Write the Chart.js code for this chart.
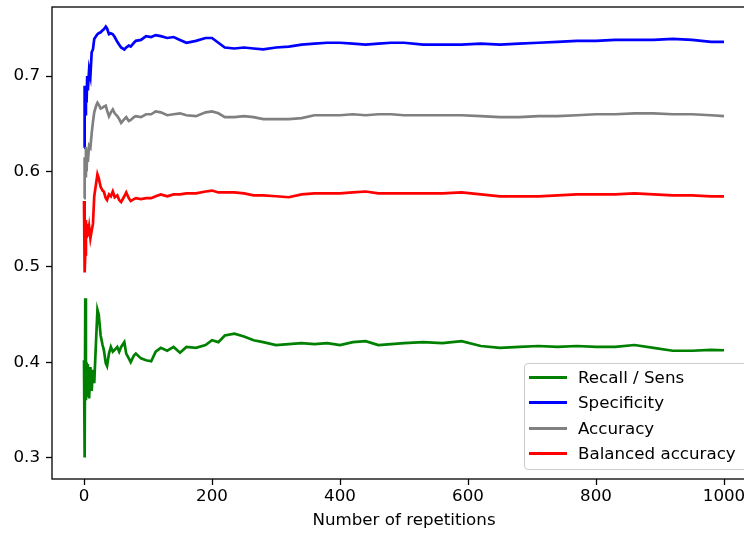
<!DOCTYPE html>
<html>
<head>
<meta charset="utf-8">
<script src="https://cdn.jsdelivr.net/npm/chart.js@4.4.1/dist/chart.umd.min.js"></script>
<style>
    html, body { margin: 0; padding: 0; background: #fff; overflow: hidden; }
    #wrap { position: relative; width: 744px; height: 533px; overflow: hidden; }
    #chart { display: block; }
    #legend {
        position: absolute; left: 524px; top: 363px; width: 240px; height: 107px;
        border: 1px solid #ccc; border-radius: 4px; background: rgba(255, 255, 255, 0.8);
        box-sizing: border-box; font-family: 'DejaVu Sans'; font-size: 16.7px; color: #000;
    }
    .item { position: absolute; left: 0; height: 20px; line-height: 20px; white-space: nowrap; }
    .swatch { position: absolute; left: 4px; top: 9px; width: 38px; height: 3px; }
    .item span { position: absolute; left: 53px; top: 0; }
</style>
</head>
<body>
<div id="wrap">
    <canvas id="chart" width="770" height="533"></canvas>
    <div id="legend"></div>
</div>
<script>
const reps = [0, 1, 2, 3, 4, 5, 6, 8, 10, 12, 14, 16, 19, 21, 23, 26, 29, 31, 34, 36, 39,
    42, 45, 48, 52, 55, 58, 63, 66, 70, 73, 78, 81, 89, 97, 105, 112, 120, 130, 140, 150,
    160, 175, 190, 200, 210, 220, 235, 250, 265, 280, 300, 320, 340, 360, 380, 400, 420,
    440, 460, 480, 500, 530, 560, 590, 620, 650, 680, 710, 740, 770, 800, 830, 860, 890,
    920, 950, 980, 1000];

const recall = [0.402, 0.300, 0.467, 0.360, 0.400, 0.365, 0.398, 0.362, 0.395, 0.370, 0.392,
    0.378, 0.425, 0.455, 0.450, 0.428, 0.418, 0.413, 0.399, 0.396, 0.409, 0.416, 0.411,
    0.413, 0.416, 0.411, 0.416, 0.421, 0.409, 0.404, 0.400, 0.407, 0.409, 0.404, 0.402,
    0.401, 0.411, 0.415, 0.412, 0.416, 0.410, 0.416, 0.415, 0.418, 0.423, 0.421, 0.428,
    0.430, 0.427, 0.423, 0.421, 0.418, 0.419, 0.420, 0.419, 0.420, 0.418, 0.421, 0.422,
    0.418, 0.419, 0.420, 0.421, 0.420, 0.422, 0.417, 0.415, 0.416, 0.417, 0.416, 0.417,
    0.416, 0.416, 0.418, 0.415, 0.412, 0.412, 0.413, 0.4125];

const specificity = [0.625, 0.690, 0.660, 0.690, 0.672, 0.700, 0.685, 0.707, 0.700, 0.725,
    0.728, 0.739, 0.742, 0.744, 0.745, 0.746, 0.748, 0.749, 0.752, 0.750, 0.744, 0.745,
    0.744, 0.741, 0.736, 0.733, 0.730, 0.728, 0.730, 0.732, 0.731, 0.735, 0.737, 0.738,
    0.742, 0.741, 0.743, 0.742, 0.740, 0.741, 0.738, 0.735, 0.737, 0.740, 0.740, 0.735,
    0.730, 0.729, 0.730, 0.729, 0.728, 0.730, 0.731, 0.733, 0.734, 0.735, 0.735, 0.734,
    0.733, 0.734, 0.735, 0.735, 0.733, 0.733, 0.733, 0.734, 0.733, 0.734, 0.735, 0.736,
    0.737, 0.737, 0.738, 0.738, 0.738, 0.739, 0.738, 0.736, 0.736];

const accuracy = [0.572, 0.615, 0.595, 0.626, 0.600, 0.620, 0.610, 0.627, 0.625, 0.640,
    0.652, 0.662, 0.669, 0.672, 0.670, 0.666, 0.667, 0.668, 0.669, 0.664, 0.658, 0.662,
    0.665, 0.661, 0.658, 0.655, 0.651, 0.655, 0.657, 0.653, 0.654, 0.657, 0.658, 0.657,
    0.660, 0.660, 0.663, 0.662, 0.659, 0.660, 0.661, 0.659, 0.658, 0.662, 0.663, 0.661,
    0.657, 0.657, 0.658, 0.657, 0.655, 0.655, 0.655, 0.656, 0.659, 0.659, 0.659, 0.660,
    0.659, 0.660, 0.660, 0.659, 0.659, 0.659, 0.659, 0.658, 0.657, 0.657, 0.658, 0.658,
    0.659, 0.660, 0.660, 0.661, 0.661, 0.660, 0.660, 0.659, 0.658];

const balanced = [0.569, 0.494, 0.513, 0.549, 0.530, 0.545, 0.532, 0.542, 0.530, 0.538,
    0.545, 0.574, 0.588, 0.597, 0.593, 0.584, 0.580, 0.579, 0.572, 0.570, 0.576, 0.574,
    0.579, 0.573, 0.575, 0.570, 0.568, 0.574, 0.578, 0.572, 0.569, 0.571, 0.572, 0.571,
    0.572, 0.572, 0.574, 0.576, 0.574, 0.576, 0.576, 0.577, 0.577, 0.579, 0.580, 0.578,
    0.578, 0.578, 0.577, 0.575, 0.575, 0.574, 0.573, 0.576, 0.577, 0.577, 0.577, 0.578,
    0.579, 0.577, 0.577, 0.577, 0.577, 0.577, 0.578, 0.576, 0.574, 0.574, 0.574, 0.575,
    0.576, 0.576, 0.576, 0.577, 0.576, 0.575, 0.575, 0.574, 0.574];

const seriesLabels = ['Recall / Sens', 'Specificity', 'Accuracy', 'Balanced accuracy'];
const seriesColors = ['#008000', '#0000ff', '#808080', '#ff0000'];
const xTicks = [0, 200, 400, 600, 800, 1000];
const yTicks = [0.3, 0.4, 0.5, 0.6, 0.7];

const tickFont = { family: 'DejaVu Sans', size: 16.7 };

// matplotlib-like box around the axes
const frame = {
    id: 'frame',
    afterDraw(chart) {
        const { ctx, chartArea: a } = chart;
        ctx.save();
        ctx.strokeStyle = '#000';
        ctx.lineWidth = 1.3;
        ctx.strokeRect(a.left, a.top, a.right - a.left, a.bottom - a.top);
        ctx.restore();
    }
};

const values = [recall, specificity, accuracy, balanced];
const datasets = values.map((v, i) => ({
    label: seriesLabels[i],
    data: v.map((y, j) => ({ x: reps[j], y: y })),
    borderColor: seriesColors[i],
    backgroundColor: seriesColors[i],
    borderWidth: 2.7,
    pointRadius: 0,
    tension: 0,
    fill: false,
    order: 3 - i
}));

const chart = new Chart(document.getElementById('chart'), {
    type: 'line',
    data: { datasets: datasets },
    plugins: [frame],
    options: {
        responsive: false,
        animation: false,
        layout: { padding: { top: 7, right: 14, left: 0, bottom: 0 } },
        plugins: { legend: { display: false }, tooltip: { enabled: false } },
        scales: {
            x: {
                type: 'linear', min: -50, max: 1050,
                afterBuildTicks: s => { s.ticks = xTicks.map(v => ({ value: v })); },
                afterFit: s => { s.height = 54; s.paddingLeft = 0; s.paddingRight = 0; },
                ticks: { font: tickFont, color: '#000', padding: 2, maxRotation: 0, callback: v => String(v) },
                grid: { drawOnChartArea: false, tickLength: 6, tickColor: '#000', tickWidth: 1.3 },
                border: { display: false },
                title: { display: true, text: 'Number of repetitions', font: tickFont, color: '#000', padding: { top: 0, bottom: 2 } }
            },
            y: {
                type: 'linear', min: 0.2775, max: 0.7725,
                afterBuildTicks: s => { s.ticks = yTicks.map(v => ({ value: v })); },
                afterFit: s => { s.width = 52; s.paddingTop = 0; s.paddingBottom = 0; },
                ticks: { font: tickFont, color: '#000', padding: 6, callback: v => v.toFixed(1) },
                grid: { drawOnChartArea: false, tickLength: 6, tickColor: '#000', tickWidth: 1.3 },
                border: { display: false }
            }
        }
    }
});

// legend box drawn in html, inside the plot like matplotlib's
const legend = document.getElementById('legend');
chart.data.datasets.forEach((ds, i) => {
    const item = document.createElement('div');
    item.className = 'item';
    item.style.top = (3 + i * 25.4) + 'px';
    const sw = document.createElement('div');
    sw.className = 'swatch';
    sw.style.background = ds.borderColor;
    const txt = document.createElement('span');
    txt.textContent = ds.label;
    item.appendChild(sw);
    item.appendChild(txt);
    legend.appendChild(item);
});
</script>
</body>
</html>
